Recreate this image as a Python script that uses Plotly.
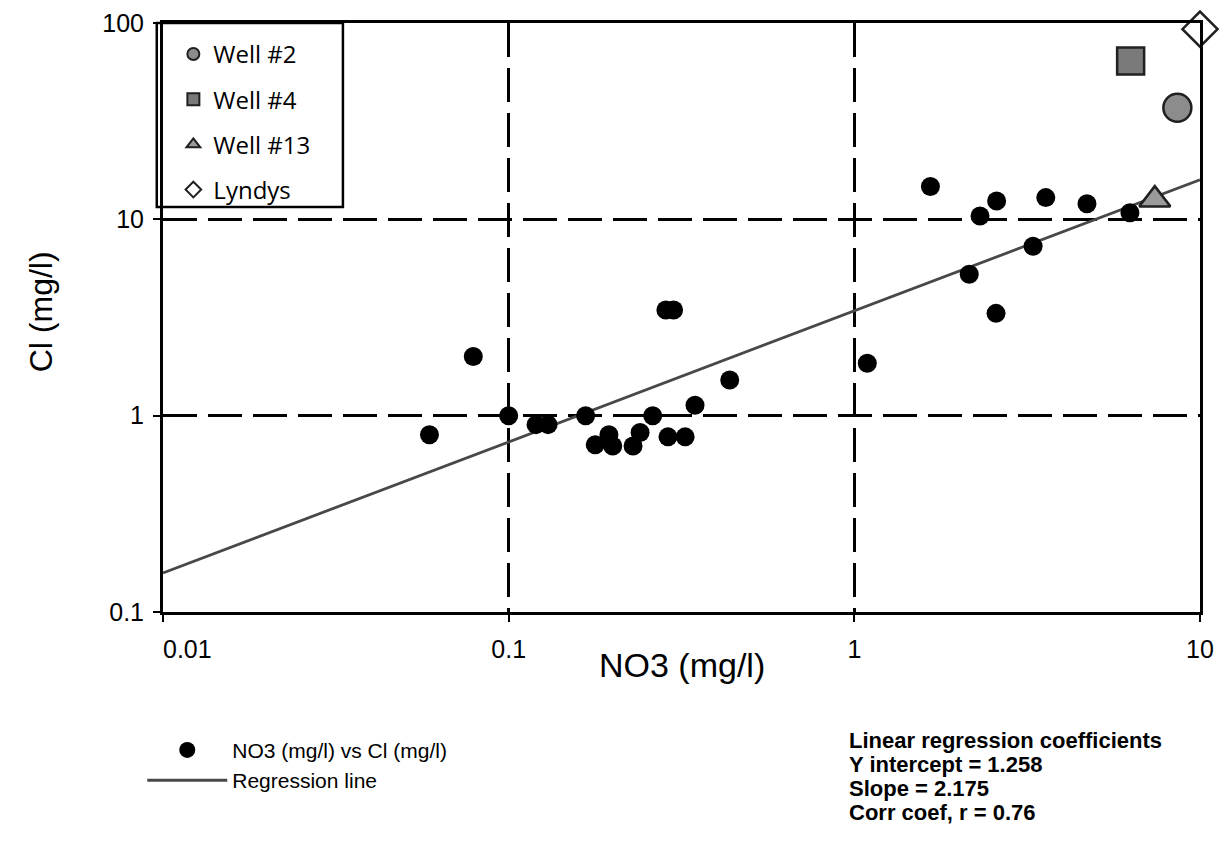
import plotly.graph_objects as go

# ---- data ----
no3 = [0.059, 0.079, 0.10, 0.12, 0.13, 0.167, 0.178, 0.195, 0.20, 0.229, 0.24,
       0.261, 0.285, 0.30, 0.289, 0.324, 0.346, 0.436, 1.09, 1.66, 2.15, 2.31,
       2.57, 2.58, 3.29, 3.58, 4.71, 6.27]
cl = [0.80, 2.0, 1.0, 0.90, 0.90, 1.0, 0.71, 0.80, 0.70, 0.70, 0.82,
      1.0, 3.45, 3.45, 0.78, 0.78, 1.13, 1.52, 1.85, 14.7, 5.25, 10.4,
      3.32, 12.4, 7.3, 12.9, 12.0, 10.8]

well_names = ["Well #2", "Well #4", "Well #13", "Lyndys"]
well_no3 = [8.6, 6.3, 7.4, 10.0]
well_cl = [37.0, 64.0, 12.6, 93.0]

reg_x = [0.01, 10]
reg_y = [0.158, 15.9]

x_ticks = [0.01, 0.1, 1, 10]
x_ticktext = ["\u00a0" * 7 + "0.01", "0.1", "1", "10"]
y_ticks = [0.1, 1, 10, 100]
y_ticktext = ["0.1", "1", "10", "100"]

reg_text = ["Linear regression coefficients", "Y intercept = 1.258",
            "Slope = 2.175", "Corr coef, r = 0.76"]

# ---- styling ----
well_symbols = ["circle", "square", "triangle-up", "diamond"]
well_fill = ["#8c8c8c", "#7a7a7a", "#9a9a9a", "white"]
well_sizes = [28, 27, 27, 27]
FONT = "Liberation Sans, Arial, sans-serif"
PLOT_H = 589.0

fig = go.Figure()

fig.add_trace(go.Scatter(
    x=reg_x, y=reg_y, mode="lines", name="Regression line",
    line=dict(color="#484848", width=2.8), legend="legend2",
    legendrank=2))

fig.add_trace(go.Scatter(
    x=no3, y=cl, mode="markers", name="NO3 (mg/l) vs Cl (mg/l)",
    marker=dict(color="black", size=19), legend="legend2", legendrank=1))

for i, nm in enumerate(well_names):
    fig.add_trace(go.Scatter(
        x=[well_no3[i]], y=[well_cl[i]], mode="markers", name=nm,
        marker=dict(symbol=well_symbols[i], size=well_sizes[i], color=well_fill[i],
                    line=dict(color="#202020", width=2.5)),
        legend="legend", legendgroup=nm, cliponaxis=False))

axis_common = dict(
    type="log", showline=True, linecolor="black", linewidth=3, mirror=True,
    showgrid=True, gridcolor="black", gridwidth=2.5, griddash="34px,11px",
    zeroline=False, ticks="outside", ticklen=7, tickwidth=2, tickcolor="black",
    tickfont=dict(family=FONT, size=25, color="black"))

fig.update_xaxes(range=[-2, 1], tickvals=x_ticks, ticktext=x_ticktext,
                 ticklabelstandoff=6, **axis_common)
fig.update_yaxes(range=[-1, 2], tickvals=y_ticks, ticktext=y_ticktext,
                 ticklabelstandoff=4, **axis_common)

annotations = [
    dict(text="NO3 (mg/l)", x=0.5, xref="paper", y=-0.09, yref="paper",
         xanchor="center", yanchor="middle", showarrow=False,
         font=dict(family=FONT, size=34, color="black")),
    dict(text="Cl (mg/l)", x=-0.118, xref="paper", y=0.51, yref="paper",
         xanchor="center", yanchor="middle", textangle=-90, showarrow=False,
         font=dict(family=FONT, size=32, color="black")),
]
for k, t in enumerate(reg_text):
    yc = 740 + 24 * k  # target centre in page pixels
    annotations.append(dict(
        text="<b>" + t + "</b>", x=(847 - 163) / 1037.0, xref="paper",
        y=(612 - yc) / PLOT_H, yref="paper",
        xanchor="left", yanchor="middle", showarrow=False,
        font=dict(family=FONT, size=22, color="black")))

fig.update_layout(
    width=1227, height=852,
    margin=dict(l=155, r=35, t=15, b=248, autoexpand=False),
    paper_bgcolor="white", plot_bgcolor="white",
    font=dict(family=FONT, color="black"),
    annotations=annotations,
    shapes=[dict(type="rect", xref="paper", yref="paper", x0=-0.006, x1=0.1735,
                 y0=0.6876, y1=1.0, line=dict(color="black", width=2.5),
                 fillcolor="rgba(0,0,0,0)")],
    legend=dict(x=0.01, y=0.985, xanchor="left", yanchor="top",
                bgcolor="rgba(0,0,0,0)", borderwidth=0, tracegroupgap=11,
                itemsizing="constant",
                font=dict(family="Open Sans, sans-serif", size=24, color="black")),
    legend2=dict(x=-0.02, y=-0.2, xanchor="left", yanchor="top",
                 bgcolor="rgba(0,0,0,0)", borderwidth=0, itemwidth=80,
                 font=dict(family=FONT, size=21, color="black")),
    showlegend=True,
)

fig.write_html("out.html")
